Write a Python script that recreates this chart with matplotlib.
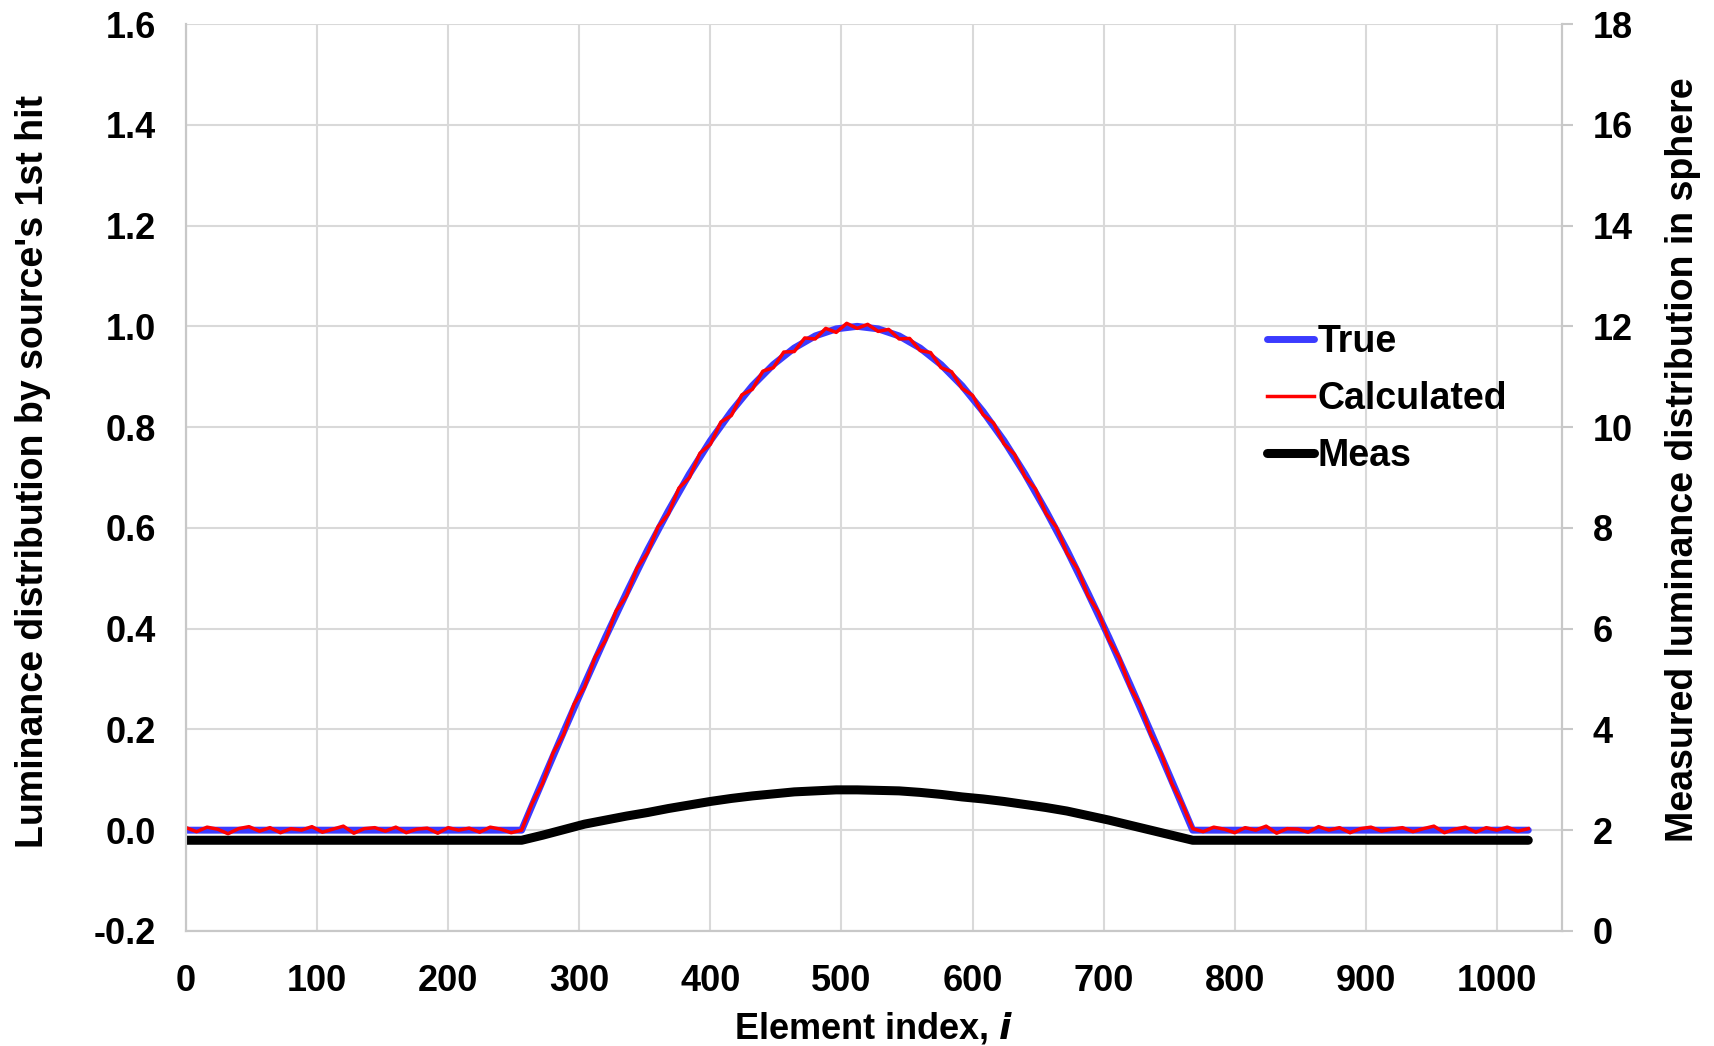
import numpy as np
import matplotlib
matplotlib.use("Agg")
import matplotlib.pyplot as plt

plt.rcParams['font.family'] = ['Liberation Sans', 'DejaVu Sans']
plt.rcParams['font.weight'] = 'bold'

# ---- data ----
# True: flat zero, half-sine bump between 256 and 768
true_x = [0, 256, 272, 288, 304, 320, 336, 352, 368, 384, 400, 416, 432, 448, 464, 480, 496,
          512, 528, 544, 560, 576, 592, 608, 624, 640, 656, 672, 688, 704, 720, 736, 752, 768, 1024]
true_y = [0.0, 0.0, 0.098, 0.195, 0.290, 0.383, 0.471, 0.556, 0.634, 0.707, 0.773, 0.831, 0.882,
          0.924, 0.957, 0.981, 0.995, 1.0, 0.995, 0.981, 0.957, 0.924, 0.882, 0.831, 0.773,
          0.707, 0.634, 0.556, 0.471, 0.383, 0.290, 0.195, 0.098, 0.0, 0.0]

# Calculated: every 8th element, noisy
calc_step = 8
calc_y = [0.005, -0.003, 0.006, 0.002, -0.007, 0.003, 0.007, -0.002, 0.005, -0.005,
          0.003, 0.000, 0.007, -0.004, 0.002, 0.008, -0.006, 0.003, 0.005, -0.002,
          0.006, -0.005, 0.002, 0.004, -0.006, 0.005, 0.000, 0.004, -0.004, 0.006,
          0.002, -0.005,
          0.000,
          0.053, 0.093, 0.153, 0.190, 0.250, 0.284, 0.343, 0.377, 0.435, 0.465,
          0.520, 0.550, 0.602, 0.628, 0.679, 0.700, 0.748, 0.766, 0.810, 0.823,
          0.864, 0.875, 0.911, 0.918, 0.949, 0.950, 0.977, 0.975, 0.996, 0.988,
          1.006,
          0.996,
          1.004, 0.990, 0.994, 0.975, 0.976, 0.952, 0.948, 0.918, 0.910, 0.877,
          0.863, 0.825, 0.808, 0.767, 0.746, 0.702, 0.677, 0.629, 0.601, 0.550,
          0.519, 0.466, 0.433, 0.378, 0.342, 0.285, 0.248, 0.190, 0.151, 0.093,
          0.052,
          0.003,
          -0.003, 0.006, 0.002, -0.005, 0.005, 0.000, 0.008, -0.006, 0.003, 0.002,
          -0.004, 0.007, 0.000, 0.005, -0.005, 0.003, 0.006, -0.002, 0.002, 0.005,
          -0.003, 0.003, 0.008, -0.005, 0.002, 0.006, -0.004, 0.005, 0.000, 0.006,
          -0.002, 0.003]
calc_x = np.arange(len(calc_y)) * calc_step

# Meas (right axis)
meas_x = true_x
meas_y = [1.80, 1.80, 1.90, 2.01, 2.12, 2.20, 2.28, 2.35, 2.43, 2.50, 2.57, 2.63, 2.68,
          2.72, 2.76, 2.78, 2.80, 2.80, 2.79, 2.78, 2.75, 2.71, 2.66, 2.62, 2.57,
          2.51, 2.45, 2.38, 2.29, 2.20, 2.10, 2.00, 1.90, 1.80, 1.80]

left_ticks = [-0.2, 0.0, 0.2, 0.4, 0.6, 0.8, 1.0, 1.2, 1.4, 1.6]
right_ticks = [0, 2, 4, 6, 8, 10, 12, 14, 16, 18]
x_ticks = [0, 100, 200, 300, 400, 500, 600, 700, 800, 900, 1000]

# ---- plot ----
fig = plt.figure(figsize=(17.15, 10.46), dpi=100)
ax = fig.add_axes([0.1085, 0.110, 0.8025, 0.867])
ax2 = ax.twinx()

l1, = ax.plot(true_x, true_y, color='#3b3bff', lw=5, solid_capstyle='round', label='True')
l2, = ax.plot(calc_x, calc_y, color='#ff0000', lw=2.5, label='Calculated')
l3, = ax2.plot(meas_x, meas_y, color='black', lw=6.5, solid_capstyle='round', label='Meas')

ax.set_xlim(0, 1050)
ax.set_ylim(-0.2, 1.6)
ax2.set_ylim(0, 18)
ax.set_xticks(x_ticks)
ax.set_yticks(left_ticks)
ax.set_yticklabels(['%.1f' % v for v in left_ticks])
ax2.set_yticks(right_ticks)

ax.grid(True, color='#d9d9d9', lw=1.5)
ax.set_axisbelow(True)
for a in (ax, ax2):
    for s in a.spines.values():
        s.set_color('#c8c8c8')
        s.set_linewidth(1.5)
    a.spines['top'].set_visible(False)

ax.tick_params(axis='both', length=0, labelsize=26)
ax.tick_params(axis='y', pad=22)
ax.tick_params(axis='x', pad=24)
ax2.tick_params(axis='y', length=8, width=1.5, color='#c8c8c8', labelsize=26, pad=14)

ax.set_xlabel('Element index, $\\boldsymbol{i}$', fontsize=26, fontweight='bold', labelpad=8)
ax.set_ylabel("Luminance distribution by source's 1st hit", fontsize=27, fontweight='bold', labelpad=30)
ax2.set_ylabel('Measured luminance distribution in sphere', fontsize=27, fontweight='bold', labelpad=23)
ax.yaxis.label.set_y(0.507)
ax2.yaxis.label.set_y(0.52)

leg = ax2.legend(handles=[l1, l2, l3], loc='upper left', bbox_to_anchor=(0.761, 0.706),
                 frameon=False, fontsize=27, handlelength=1.25, handletextpad=0.1,
                 labelspacing=0.55)

fig.savefig('out.png', dpi=100)
